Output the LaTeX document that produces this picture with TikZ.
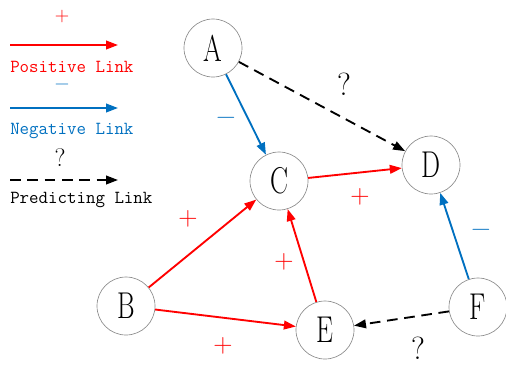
\documentclass[tikz,border=0pt]{standalone}
\usepackage{fontspec}
\usepackage{graphicx}
\usetikzlibrary{arrows.meta,positioning}
\definecolor{poscol}{HTML}{FF0000}
\definecolor{negcol}{HTML}{0070C0}
\definecolor{rim}{HTML}{8C8C8C}
\newcommand{\slimletter}[1]{\scalebox{0.72}[1]{#1}}

\begin{document}
\begin{tikzpicture}[
  x=0.75pt,y=-0.75pt,
  vert/.style={circle,draw=rim,line width=0.5pt,minimum size=43.5pt,inner sep=0pt,
               font=\fontsize{28}{28}\selectfont},
  poslink/.style={-{Triangle[length=9pt,width=6.5pt]},draw=poscol,line width=1.4pt},
  neglink/.style={-{Triangle[length=9pt,width=6.5pt]},draw=negcol,line width=1.4pt},
  predlink/.style={-{Triangle[length=9pt,width=6.5pt]},draw=black,line width=1.4pt,
               dash pattern=on 8pt off 5pt},
  plab/.style={text=poscol,inner sep=0pt,font=\fontsize{20}{20}\selectfont},
  nlab/.style={text=negcol,inner sep=0pt,text height=10pt,text depth=0pt,
               font=\fontsize{20}{20}\selectfont},
  qlab/.style={inner sep=0pt,font=\fontsize{24}{24}\selectfont},
  legtxt/.style={anchor=west,inner sep=0pt,font=\ttfamily\fontsize{13.8}{14}\selectfont}
]
\useasboundingbox (0,0) rectangle (506,369);

% legend
\node[plab,font=\fontsize{15}{15}\selectfont] (lp) at (62,17) {+};
\coordinate (lp0) at (10,45);
\coordinate (lp1) at (118,45);
\draw[poslink] (lp0) -- (lp1);
\node[legtxt,text=poscol] (lpt) at (10,67) {Positive Link};

\node[nlab,text height=7.5pt,font=\fontsize{15}{15}\selectfont] (ln) at (62,84) {−};
\coordinate (ln0) at (10,108);
\coordinate (ln1) at (118,108);
\draw[neglink] (ln0) -- (ln1);
\node[legtxt,text=negcol] (lnt) at (10,131) {Negative Link};

\node[qlab,font=\fontsize{19}{19}\selectfont] (lq) at (60,158) {?};
\coordinate (lq0) at (10,180);
\coordinate (lq1) at (118,180);
\draw[predlink] (lq0) -- (lq1);
\node[legtxt] (lqt) at (10,200) {Predicting Link};

% graph
\node[vert] (A) at (213,48) {\slimletter{A}};
\node[vert] (C) at (279,181) {\slimletter{C}};
\node[vert] (D) at (431,165) {\slimletter{D}};
\node[vert] (B) at (126,306) {\slimletter{B}};
\node[vert] (E) at (325,330) {\slimletter{E}};
\node[vert] (F) at (478,307) {\slimletter{F}};

\draw[neglink] (A) -- (C);
\draw[predlink] (A) -- (D);
\draw[poslink] (C) -- (D);
\draw[poslink] (B) -- (C);
\draw[poslink] (B) -- (E);
\draw[poslink] (E) -- (C);
\draw[neglink] (F) -- (D);
\draw[predlink] (F) -- (E);

\node[nlab] (lAC) at (226,118) {−};
\node[qlab] (lAD) at (344,84) {?};
\node[plab] (lCD) at (360,197) {+};
\node[plab] (lBC) at (188,219) {+};
\node[plab] (lEC) at (284,262) {+};
\node[plab] (lBE) at (223,346) {+};
\node[qlab] (lFE) at (418,348) {?};
\node[nlab] (lFD) at (481,230) {−};
\end{tikzpicture}
\end{document}
